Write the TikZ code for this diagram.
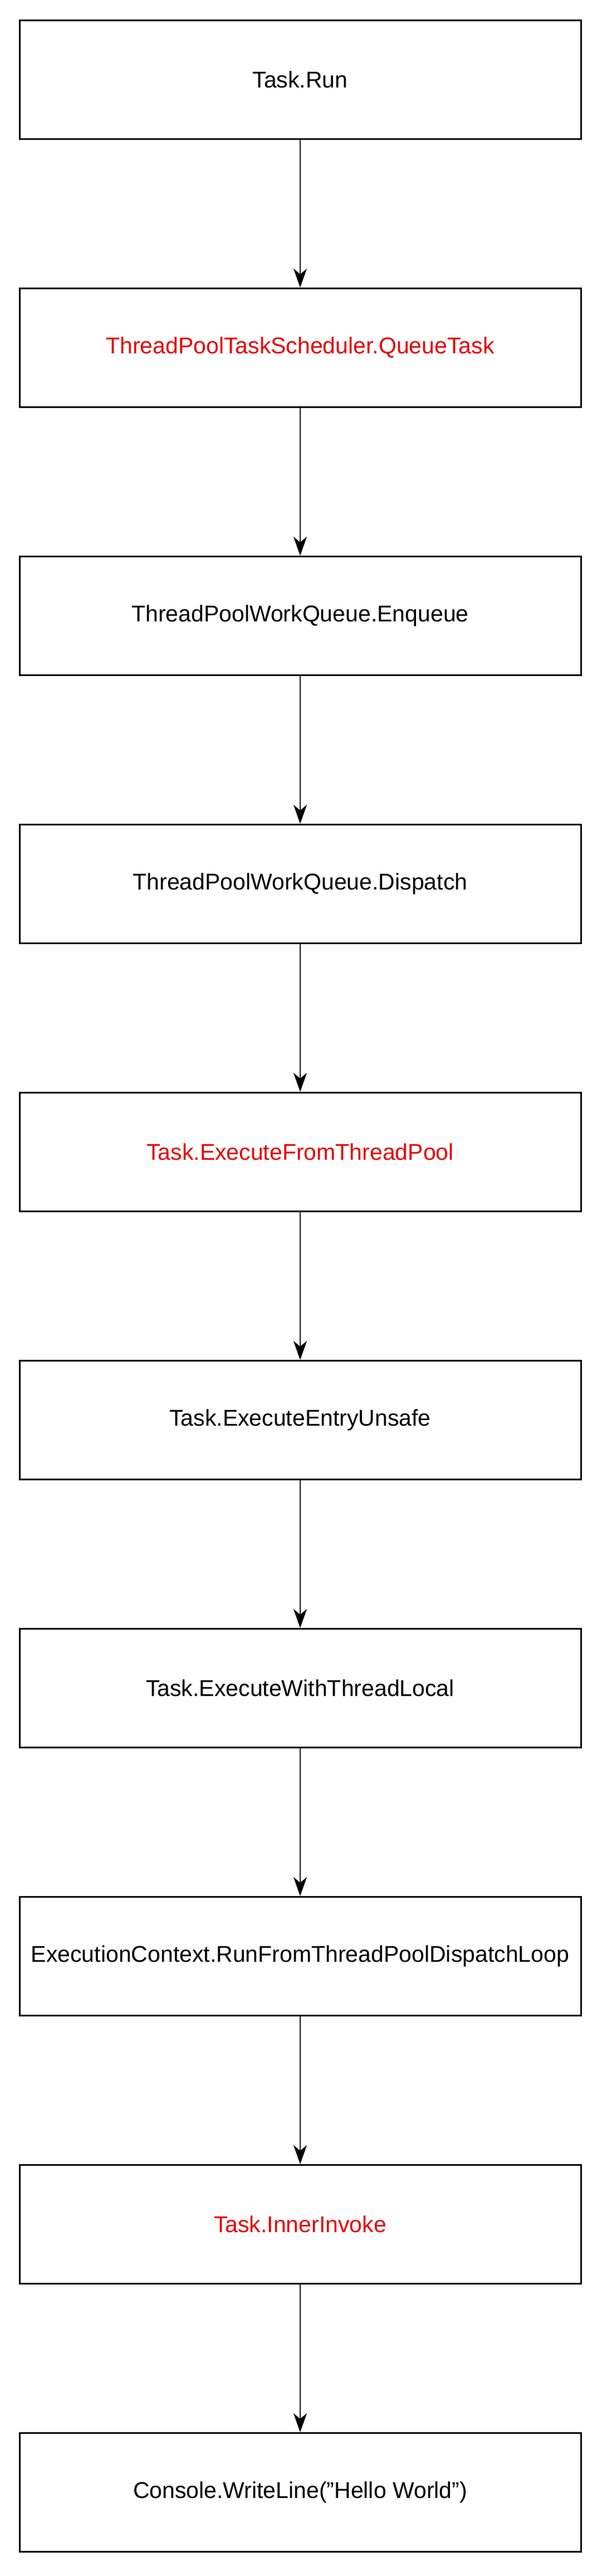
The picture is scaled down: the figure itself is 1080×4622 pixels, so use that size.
\documentclass[tikz,border=0pt]{standalone}
\usepackage{fontspec}
\setmainfont{Liberation Sans}
\usetikzlibrary{arrows.meta}
\begin{document}
\begin{tikzpicture}[x=1pt,y=-1pt,
  box/.style={draw=black,line width=3pt,minimum width=1008pt,minimum height=213pt,inner sep=0pt,font=\fontsize{41}{46}\selectfont},
  hot/.style={text=red!90!black},
  conn/.style={line width=2pt,-{Stealth[length=34pt,width=24pt,inset=10pt]}}]
\useasboundingbox (0,0) rectangle (1080,4622);
\node[box] (n0) at (539,143) {Task.Run};
\node[box,hot] (n1) at (539,624) {ThreadPoolTaskScheduler.QueueTask};
\node[box] (n2) at (539,1105) {ThreadPoolWorkQueue.Enqueue};
\node[box] (n3) at (539,1586) {ThreadPoolWorkQueue.Dispatch};
\node[box,hot] (n4) at (539,2067) {Task.ExecuteFromThreadPool};
\node[box] (n5) at (539,2548) {Task.ExecuteEntryUnsafe};
\node[box] (n6) at (539,3029) {Task.ExecuteWithThreadLocal};
\node[box] (n7) at (539,3510) {ExecutionContext.RunFromThreadPoolDispatchLoop};
\node[box,hot] (n8) at (539,3991) {Task.InnerInvoke};
\node[box] (n9) at (539,4472) {Console.WriteLine(\symbol{34}Hello World\symbol{34})};
\foreach \a/\b in {n0/n1,n1/n2,n2/n3,n3/n4,n4/n5,n5/n6,n6/n7,n7/n8,n8/n9}
  \draw[conn] (\a) -- (\b);
\end{tikzpicture}
\end{document}
